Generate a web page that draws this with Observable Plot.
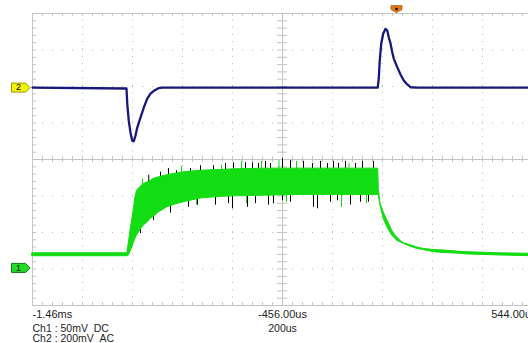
<!DOCTYPE html>
<html><head><meta charset="utf-8">
<script src="https://cdn.jsdelivr.net/npm/d3@7"></script>
<script src="https://cdn.jsdelivr.net/npm/@observablehq/plot@0.6"></script>
<style>html,body{margin:0;padding:0;background:#fff;overflow:hidden}</style>
</head><body><div id="chart"></div>
<script>
// ---- time base (microseconds) ----
const tStart = -1456, tEnd = 544, tPerDiv = 200;
const timeLabels = ["-1.46ms", "-456.00us", "544.00us"];
const timeLabelAt = [-1456, -456, 544];
const timebaseLabel = "200us";
const chLabels = ["Ch1\u00a0:\u00a050mV\u00a0\u00a0DC", "Ch2\u00a0:\u00a0200mV\u00a0\u00a0AC"];
const ch1Scale = 50, ch1Pos = -2.97;   // mV/div, divisions
const ch2Scale = 200, ch2Pos = 1.97;

// ---- Ch2 (navy) trace: time (us), mV ----
const ch2Time = [-1456,-1080,-1077,-1071,-1064,-1057,-1051,-1044,-1037,-1024,-1011,-997,-984,-969,-952,-937,
  -75,-71,-67,-61,-53,-44,-37,-31,-24,-17,-11,3,16,29,43,56,83,544];
const ch2mV = [0,-5,-88,-181,-247,-291,-294,-263,-219,-164,-110,-60,-33,-16,-3,0,
  0,50,148,242,296,322,313,276,242,194,159,112,72,39,17,2,0,0];

// ---- Ch1 (green) envelope: time (us), high / low mV ----
const ch1Time = [-1456,-1077,-1071,-1064,-1057,-1051,-1044,-1037,-1024,-1011,-997,-984,-971,-951,-917,-884,-851,-784,-717,-652,-517,-384,-200,-73,
  -71,-64,-51,-37,-24,-17,-4,3,16,29,56,83,109,149,189,256,283,416,544];
const ch1High = [20,20,33,51,66,79,97,106,111,115,117,119,122,124,127,129,131,133,134,135,136,136,136,136,
  108,88,76,65,56,51,44,42,37,34,31,28,26,24.5,23.8,22,21.5,20,19.3];
const ch1Low = [16,16,17,22,28,34,40,45,52,58,62,67,70,76,83,87,90,95,97,98,99,100,100,100,
  99,85,67,56,48,44,40,37,35,33,29,26,24.5,21.5,20.5,19.3,18.5,17,16];

// ---- Ch1 spikes: time (us), base mV, tip mV ----
const blackSpikeTime = [-991,-944,-912,-880,-824,-784,-732,-684,-652,-604,-576,-552,-524,-504,-456,-424,-372,-336,-304,-276,-252,-232,-204,-164,-136,-92,
  -1024,-1004,-972,-904,-832,-796,-724,-672,-656,-596,-564,-512,-492,-456,-424,-332,-316,-264,-236,-184,-144,-112];
const blackSpikeBase = [110,120,120,120,120,120,120,120,120,120,120,120,120,120,120,120,120,120,120,120,120,120,120,120,120,120,
  80,80,80,95,110,110,110,110,110,110,110,110,110,110,110,110,110,110,110,110,110,110];
const blackSpikeTip = [127,131,136,133,136,140,140,143,144,144,144,143,146,143,150,147,146,143,146,143,146,143,146,143,146,146,
  47,63,65,75,83,86,86,88,81,83,88,86,88,92,90,83,81,90,92,86,90,90];
const greenSpikeTime = [-1016,-860,-700,-620,-540,-470,-400,-190,-800,-600,-440,-220,-120];
const greenSpikeBase = [100,120,120,120,120,120,120,120,110,110,110,110,110];
const greenSpikeTip = [122,139,141,146,146,147,146,143,86,88,90,83,88];

const y1 = mv => mv / ch1Scale + ch1Pos;
const y2 = mv => mv / ch2Scale + ch2Pos;

const ch2 = ch2Time.map((t, i) => ({t, v: ch2mV[i]}));
const band = ch1Time.map((t, i) => ({t, hi: ch1High[i], lo: ch1Low[i]}));
const bSpikes = blackSpikeTime.map((t, i) => ({t, b: blackSpikeBase[i], e: blackSpikeTip[i]}));
const gSpikes = greenSpikeTime.map((t, i) => ({t, b: greenSpikeBase[i], e: greenSpikeTip[i]}));

// graticule
const divX = d3.range(0, 11).map(k => tStart + k * tPerDiv);
const divY = d3.range(-4, 5);
const minorX = d3.range(0, 51).map(k => tStart + k * tPerDiv / 5);
const minorY = d3.range(-20, 21).map(k => k / 5);
const gridCol = "#c4c4c4";

const flagSym = {draw(c) { c.moveTo(-9,-4.5); c.lineTo(5,-4.5); c.lineTo(9.5,0); c.lineTo(5,4.5); c.lineTo(-9,4.5); c.closePath(); }};
const trigSym = {draw(c) { c.moveTo(-5.5,-3.5); c.lineTo(5.5,-3.5); c.lineTo(5.5,0.5); c.lineTo(0,3.5); c.lineTo(-5.5,0.5); c.closePath(); }};

const font = "Liberation Sans, Arial, sans-serif";
const txtCol = "#1e1e1e";

const plot = Plot.plot({
  width: 528, height: 343,
  marginLeft: 32, marginRight: -4, marginTop: 13, marginBottom: 38,
  x: {domain: [tStart, tEnd], axis: null},
  y: {domain: [-4, 4], axis: null},
  marks: [
    Plot.ruleX(divX.filter(x => x !== tStart && x !== tEnd && x !== -456), {y1: -4, y2: 4, stroke: "#b8b8b8", strokeDasharray: "1,6.3"}),
    Plot.ruleY(divY.filter(y => y !== 0 && Math.abs(y) !== 4), {x1: tStart, x2: tEnd, stroke: "#b8b8b8", strokeDasharray: "1,9"}),
    Plot.ruleX([tStart, -456, tEnd], {y1: -4, y2: 4, stroke: gridCol}),
    Plot.ruleY([-4, 0, 4], {x1: tStart, x2: tEnd, stroke: gridCol}),
    Plot.ruleX(minorX, {y1: 4, y2: 3.92, stroke: gridCol}),
    Plot.ruleX(minorX, {y1: -4, y2: -3.92, stroke: gridCol}),
    Plot.ruleX(minorX, {y1: -0.08, y2: 0.08, stroke: gridCol}),
    Plot.ruleY(minorY, {x1: tStart, x2: tStart + 16, stroke: gridCol}),
    Plot.ruleY(minorY, {x1: -476, x2: -436, stroke: gridCol}),
    Plot.ruleX(bSpikes, {x: "t", y1: d => y1(d.b), y2: d => y1(d.e), stroke: "#000", strokeWidth: 1}),
    Plot.ruleX(gSpikes, {x: "t", y1: d => y1(d.b), y2: d => y1(d.e), stroke: "#12dc12", strokeWidth: 1}),
    Plot.areaY(band, {x: "t", y1: d => y1(d.lo), y2: d => y1(d.hi), fill: "#12dc12", stroke: "#12dc12", strokeWidth: 1}),
    Plot.line(ch2, {x: "t", y: d => y2(d.v), stroke: "#17177c", strokeWidth: 2.3}),
    Plot.dot([2], {x: () => -1504, y: () => ch2Pos, symbol: flagSym, fill: "#f4f400", stroke: "#9a9a00", strokeWidth: 1}),
    Plot.dot([1], {x: () => -1504, y: () => ch1Pos, symbol: flagSym, fill: "#22dd22", stroke: "#0a7a0a", strokeWidth: 1}),
    Plot.text([2], {x: () => -1512, y: () => ch2Pos, text: d => String(d), fontSize: 9, fontFamily: font, fill: "#000"}),
    Plot.text([1], {x: () => -1512, y: () => ch1Pos, text: d => String(d), fontSize: 9, fontFamily: font, fill: "#000"}),
    Plot.dot([0], {x: d => d, y: () => 4.12, symbol: trigSym, fill: "#e07a18", stroke: "#b85a08", strokeWidth: 0.8}),
    Plot.dot([0], {x: d => d, y: () => 4.12, r: 1.3, fill: "#000", stroke: "none"}),
    Plot.text([0], {x: () => timeLabelAt[0], y: () => -4, dy: 8.5, text: () => timeLabels[0], textAnchor: "start", fontSize: 11, fontFamily: font, fill: txtCol}),
    Plot.text([1], {x: () => timeLabelAt[1], y: () => -4, dy: 8.5, text: () => timeLabels[1], textAnchor: "middle", fontSize: 11, fontFamily: font, fill: txtCol}),
    Plot.text([2], {x: () => timeLabelAt[2], y: () => -4, dy: 8.5, dx: 4, text: () => timeLabels[2], textAnchor: "end", fontSize: 11, fontFamily: font, fill: txtCol}),
    Plot.text([0], {x: () => -456, y: () => -4, dy: 23, text: () => timebaseLabel, textAnchor: "middle", fontSize: 10.5, fontFamily: font, fill: txtCol}),
    Plot.text(chLabels, {x: () => tStart, y: () => -4, dy: 23, text: d => d, textAnchor: "start", fontSize: 10.5, fontFamily: font, fill: txtCol, filter: (d, i) => i === 0}),
    Plot.text(chLabels, {x: () => tStart, y: () => -4, dy: 33, text: d => d, textAnchor: "start", fontSize: 10.5, fontFamily: font, fill: txtCol, filter: (d, i) => i === 1})
  ]
});
document.getElementById("chart").appendChild(plot);
</script></body></html>
